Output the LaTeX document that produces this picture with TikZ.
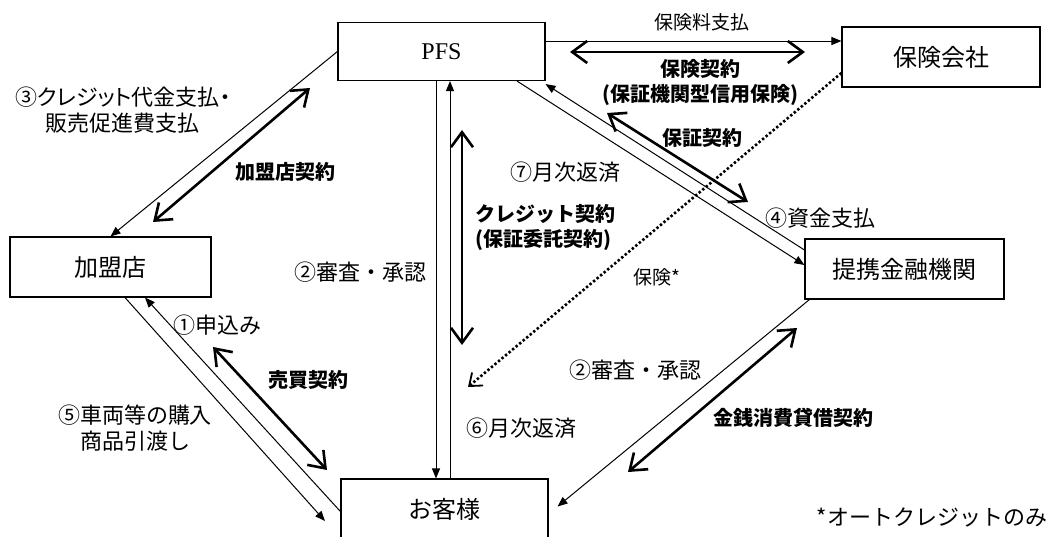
\documentclass[tikz,border=0pt]{standalone}
\usepackage{fontspec}
\setmainfont{Liberation Serif}
\newfontfamily\jpfont{Noto Sans CJK JP}
\usetikzlibrary{arrows.meta}

\begin{document}
\begin{tikzpicture}[x=1pt,y=1pt,yscale=-1,
  box/.style={draw,line width=1.1pt,inner sep=0pt,font=\jpfont\fontsize{24}{28}\selectfont},
  flow/.style={line width=1pt,-{Triangle[length=10pt,width=8pt]}},
  deal/.style={line width=2.6pt,{Straight Barb[length=15pt,width=22pt]}-{Straight Barb[length=15pt,width=22pt]}},
  insure/.style={line width=2.6pt,dash pattern=on 2.4pt off 2.2pt,-{Straight Barb[length=11pt,width=17pt,line width=1.8pt]}},
  lbl/.style={inner sep=0pt,align=center,font=\jpfont\fontsize{22}{26}\selectfont},
  slbl/.style={inner sep=0pt,font=\jpfont\fontsize{19}{22}\selectfont},
  blbl/.style={inner sep=0pt,align=center,font=\jpfont\bfseries\fontsize{20}{25}\selectfont}]
\useasboundingbox (0,0) rectangle (1053,536);

%Boxes
\node[box,minimum width=207pt,minimum height=58pt] (pfs) at (441.5,51.5) {\rmfamily\fontsize{24}{28}\selectfont PFS};
\node[box,minimum width=198pt,minimum height=60pt] (hoken) at (941,57) {保険会社};
\node[box,minimum width=201pt,minimum height=60pt] (kamei) at (110.5,267) {加盟店};
\node[box,minimum width=199pt,minimum height=60pt] (teikei) at (904.5,269) {提携金融機関};
\node[box,minimum width=207pt,minimum height=60pt] (kyaku) at (444.5,509) {お客様};

%Free ends
\coordinate (kamA) at (153,222);
\coordinate (kamB) at (310,88);
\coordinate (crA) at (462,130);
\coordinate (crB) at (462,345);
\coordinate (hsA) at (607,113);
\coordinate (hsB) at (748,202);
\coordinate (hkA) at (570,52);
\coordinate (hkB) at (805,52);
\coordinate (bbA) at (213,347);
\coordinate (bbB) at (327,470);
\coordinate (kinA) at (797,328);
\coordinate (kinB) at (628,472);
\coordinate (insEnd) at (468,387);
\coordinate (goodsEnd) at (325,521);

%Money and goods
\draw[flow] (pfs.west) -- (kamei.north);
\draw[flow] ([xshift=-5.5pt]pfs.south) -- ([xshift=-8.5pt]kyaku.north);
\draw[flow] ([xshift=5.5pt]kyaku.north) -- ([xshift=8.5pt]pfs.south);
\draw[flow] ([xshift=75.5pt]pfs.south) -- ([yshift=-4pt]teikei.west);
\draw[flow] ([yshift=-19pt]teikei.west) -- ([yshift=3pt]pfs.south east);
\draw[flow] ([yshift=-10.5pt]pfs.east) -- ([yshift=-16pt]hoken.west);
\draw[flow] ([xshift=14.5pt]kamei.south) -- (goodsEnd);
\draw[flow] ([yshift=2.5pt]kyaku.west) -- ([xshift=34.5pt]kamei.south);
\draw[flow] ([xshift=5pt]teikei.south west) -- ([xshift=9pt,yshift=-2.5pt]kyaku.east);
\draw[insure] ([yshift=16pt]hoken.west) -- (insEnd);

%Contracts
\draw[deal] (kamA) -- (kamB);
\draw[deal] (crA) -- (crB);
\draw[deal] (hsA) -- (hsB);
\draw[deal] (hkA) -- (hkB);
\draw[deal] (bbA) -- (bbB);
\draw[deal] (kinA) -- (kinB);

% Text Node
\node[slbl] (tPremium) at (702,22) {保険料支払};
\node[blbl] (tInsDeal) at (700,82) {保険契約\\(保証機関型信用保険)};
\node[blbl] (tGuarantee) at (702,138) {保証契約};
\node[lbl] (tPay3) at (123,110) {\addfontfeatures{RawFeature=+palt}③クレジット代金支払・\\販売促進費支払};
\node[blbl] (tMember) at (285,172) {加盟店契約};
\node[lbl] (tRepay7) at (565,172) {⑦月次返済};
\node[blbl,align=left] (tCredit) at (545,227) {クレジット契約\\(保証委託契約)};
\node[lbl] (tFund4) at (820,218) {④資金支払};
\node[lbl] (tCheckL) at (360,272) {②審査・承認};
\node[slbl] (tInsure) at (657,277) {保険*};
\node[lbl] (tApply1) at (217,325) {①申込み};
\node[blbl] (tSale) at (308,380) {売買契約};
\node[lbl] (tCheckR) at (635,370) {②審査・承認};
\node[lbl] (tGoods5) at (135,428) {⑤車両等の購入\\商品引渡し};
\node[lbl] (tRepay6) at (521,428) {⑥月次返済};
\node[blbl] (tLoan) at (793,418) {金銭消費貸借契約};
\node[lbl] (tNote) at (932,517) {*オートクレジットのみ};

\end{tikzpicture}
\end{document}
